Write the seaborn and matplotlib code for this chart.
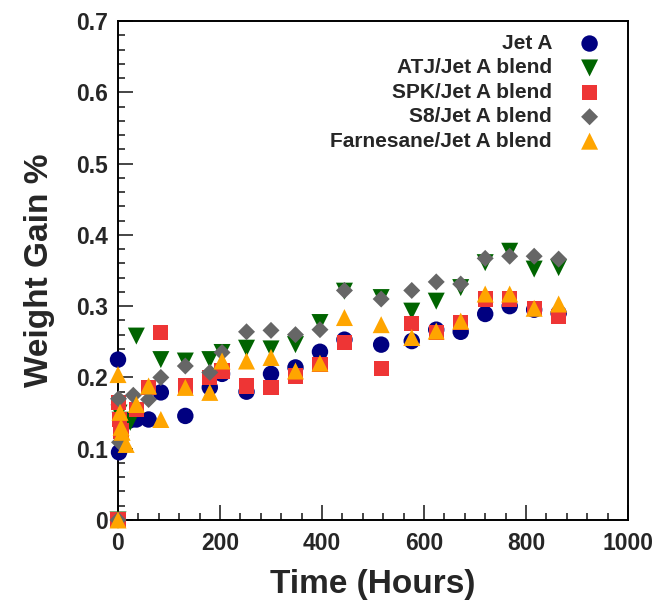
import matplotlib
matplotlib.use("Agg")
import matplotlib.pyplot as plt
from matplotlib.ticker import MultipleLocator, FuncFormatter
import seaborn as sns
import pandas as pd

# ---- data ----
series_names = ["Jet A", "ATJ/Jet A blend", "SPK/Jet A blend", "S8/Jet A blend", "Farnesane/Jet A blend"]

jeta_t = [0, 2, 24, 36, 60, 84, 132, 180, 204, 252, 300, 348, 396, 444, 516, 576, 624, 672, 720, 768, 816, 864]
jeta_w = [0.225, 0.095, 0.14, 0.141, 0.141, 0.179, 0.146, 0.186, 0.205, 0.18, 0.205, 0.214, 0.236, 0.253, 0.246, 0.251, 0.267, 0.264, 0.289, 0.30, 0.295, 0.29]

atj_t = [0, 2, 4, 24, 36, 84, 132, 180, 204, 252, 300, 348, 396, 444, 516, 576, 624, 672, 720, 768, 816, 864]
atj_w = [0, 0.15, 0.14, 0.137, 0.258, 0.225, 0.223, 0.225, 0.235, 0.241, 0.24, 0.246, 0.277, 0.321, 0.312, 0.293, 0.307, 0.326, 0.361, 0.377, 0.352, 0.354]

spk_t = [0, 1, 3, 6, 36, 60, 84, 132, 180, 204, 252, 300, 348, 396, 444, 516, 576, 624, 672, 720, 768, 816, 864]
spk_w = [0, 0.165, 0.141, 0.125, 0.155, 0.186, 0.263, 0.188, 0.20, 0.209, 0.188, 0.186, 0.202, 0.218, 0.249, 0.213, 0.276, 0.263, 0.277, 0.31, 0.31, 0.297, 0.286]

s8_t = [0, 1, 3, 30, 60, 84, 132, 180, 204, 252, 300, 348, 396, 444, 516, 576, 624, 672, 720, 768, 816, 864]
s8_w = [0, 0.17, 0.109, 0.175, 0.169, 0.20, 0.216, 0.207, 0.235, 0.264, 0.266, 0.26, 0.267, 0.322, 0.31, 0.322, 0.334, 0.331, 0.367, 0.37, 0.37, 0.366]

farn_t = [0, 0, 4, 6, 8, 16, 36, 60, 84, 132, 180, 204, 252, 300, 348, 396, 444, 516, 576, 624, 672, 720, 768, 816, 864]
farn_w = [0, 0.204, 0.151, 0.13, 0.123, 0.106, 0.162, 0.188, 0.141, 0.186, 0.179, 0.223, 0.223, 0.228, 0.209, 0.22, 0.284, 0.274, 0.256, 0.265, 0.279, 0.317, 0.317, 0.297, 0.303]

x_ticks = [0, 200, 400, 600, 800, 1000]
y_ticks = [0, 0.1, 0.2, 0.3, 0.4, 0.5, 0.6, 0.7]

# ---- style ----
sns.set_style("ticks")
plt.rcParams["font.family"] = ["Liberation Sans", "DejaVu Sans"]
plt.rcParams["font.weight"] = "bold"

colors = ["#000080", "#006400", "#EE3535", "#666666", "#FFA500"]
markers = ["o", "v", "s", "D", "^"]
sizes = [140, 150, 120, 75, 150]

fig = plt.figure(figsize=(6.63, 6.03), dpi=100)
ax = fig.add_axes([118 / 663, 83 / 603, 510 / 663, 499 / 603])

all_t = [jeta_t, atj_t, spk_t, s8_t, farn_t]
all_w = [jeta_w, atj_w, spk_w, s8_w, farn_w]
for name, t, w, c, m, s in zip(series_names, all_t, all_w, colors, markers, sizes):
    df = pd.DataFrame({"Time": t, "Gain": w})
    sns.scatterplot(data=df, x="Time", y="Gain", ax=ax, color=c, marker=m, s=s,
                    linewidth=0, edgecolor="none", label=name, clip_on=False, zorder=3)

ax.set_xlim(0, 1000)
ax.set_ylim(0, 0.7)
ax.set_xticks(x_ticks)
ax.set_yticks(y_ticks)
ax.xaxis.set_minor_locator(MultipleLocator(40))
ax.yaxis.set_minor_locator(MultipleLocator(0.02))
ax.yaxis.set_major_formatter(FuncFormatter(lambda v, p: "0" if abs(v) < 1e-9 else f"{v:.1f}"))
ax.xaxis.set_major_formatter(FuncFormatter(lambda v, p: f"{int(round(v))}"))

ax.tick_params(which="major", direction="in", length=11, width=1.2, labelsize=16.5, pad=7)
ax.tick_params(axis="x", which="major", pad=9)
ax.tick_params(which="minor", direction="in", length=5, width=1.2)
ax.tick_params(top=False, right=False, which="both")
for lab in ax.get_xticklabels() + ax.get_yticklabels():
    lab.set_fontweight("bold")
for sp in ax.spines.values():
    sp.set_visible(True)
    sp.set_linewidth(1.4)
    sp.set_color("black")

ax.set_xlabel("Time (Hours)", fontsize=24, fontweight="bold", labelpad=10)
ax.set_ylabel("Weight Gain %", fontsize=24, fontweight="bold", labelpad=15)

leg = ax.legend(loc="upper right", bbox_to_anchor=((600 - 118) / 510, (520 - 34) / 499),
                markerfirst=False, frameon=False, prop={"weight": "bold", "size": 15},
                handlelength=1.0, handletextpad=1.3, labelspacing=0.26,
                borderpad=0, borderaxespad=0)

fig.savefig("out.png", dpi=100)
